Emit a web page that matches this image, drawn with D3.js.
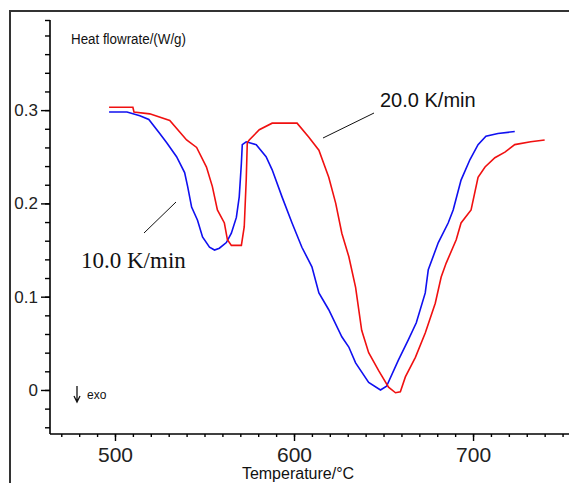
<!DOCTYPE html>
<html>
<head>
<meta charset="utf-8">
<script src="https://cdn.jsdelivr.net/npm/d3@7"></script>
<style>
  body { margin: 0; background: #fff; }
  svg { display: block; }
</style>
</head>
<body>
<div id="canvas"></div>
<script>
// 10.0 K/min run (blue)
const temp10 = [496.7, 506.7, 513.9, 518.9, 525.0, 528.9, 534.4, 538.9, 540.6, 542.8, 546.1, 548.9, 552.8, 555.6, 558.3, 562.2, 565.0, 567.8, 569.4, 570.6, 571.1, 573.3, 578.9, 584.4, 587.8, 593.3, 598.9, 604.4, 610.0, 613.9, 619.4, 626.7, 630.6, 634.4, 641.7, 648.3, 651.7, 658.3, 663.9, 668.3, 673.3, 675.0, 680.6, 686.1, 688.9, 693.3, 698.3, 702.8, 707.2, 713.9, 723.3];
const flow10 = [0.298, 0.298, 0.294, 0.290, 0.275, 0.265, 0.250, 0.233, 0.218, 0.196, 0.182, 0.164, 0.153, 0.150, 0.152, 0.158, 0.168, 0.185, 0.207, 0.243, 0.263, 0.266, 0.263, 0.250, 0.236, 0.207, 0.179, 0.153, 0.132, 0.104, 0.086, 0.057, 0.046, 0.029, 0.008, 0.000, 0.004, 0.032, 0.054, 0.072, 0.104, 0.129, 0.158, 0.179, 0.193, 0.225, 0.247, 0.263, 0.272, 0.275, 0.277];

// 20.0 K/min run (red)
const temp20 = [496.7, 510.0, 510.6, 519.4, 530.6, 540.0, 545.6, 551.1, 554.4, 557.2, 561.1, 562.8, 565.0, 570.6, 572.2, 573.3, 573.9, 575.0, 580.6, 587.8, 601.7, 608.3, 613.9, 619.4, 623.3, 626.7, 630.6, 634.4, 637.8, 641.7, 647.2, 652.8, 656.7, 659.4, 662.2, 667.8, 673.3, 678.9, 682.2, 685.0, 690.6, 693.3, 698.9, 702.8, 706.7, 712.2, 717.8, 723.3, 732.2, 740.0];
const flow20 = [0.303, 0.303, 0.298, 0.296, 0.289, 0.268, 0.260, 0.239, 0.218, 0.193, 0.179, 0.161, 0.155, 0.155, 0.175, 0.225, 0.265, 0.268, 0.279, 0.286, 0.286, 0.271, 0.257, 0.228, 0.200, 0.168, 0.143, 0.110, 0.064, 0.040, 0.021, 0.003, -0.003, -0.002, 0.014, 0.035, 0.061, 0.093, 0.121, 0.136, 0.161, 0.179, 0.193, 0.228, 0.239, 0.249, 0.255, 0.263, 0.266, 0.268];

const xMajor = [500, 600, 700];
const yMajor = [0, 0.1, 0.2, 0.3];
const yLabels = ["0", "0.1", "0.2", "0.3"];

const width = 569, height = 483;
const plotLeft = 50, plotRight = 569, plotTop = 20, plotBottom = 434;

const svg = d3.select("#canvas").append("svg")
  .attr("width", width).attr("height", height);

// outer frame (top + left edge only, rest is cropped)
svg.append("path")
  .attr("d", `M10,${height} L10,11 L${width},11`)
  .attr("fill", "none").attr("stroke", "#333").attr("stroke-width", 2);

const x = d3.scaleLinear().domain([463.7, 753.6]).range([plotLeft, plotRight]);
const y = d3.scaleLinear().domain([-0.0472, 0.3966]).range([plotBottom, plotTop]);

// y axis
const yMinor = d3.range(-0.04, 0.39, 0.02).concat([0.3966]);
svg.append("g")
  .attr("transform", `translate(${plotLeft},0)`)
  .call(d3.axisLeft(y).tickValues(yMinor).tickSize(5).tickFormat(""))
  .call(g => g.select(".domain").attr("d", `M0,${plotTop}V${plotBottom}`).attr("stroke-width", 1.6))
  .call(g => g.selectAll(".tick line").attr("stroke-width", 1.4));
svg.append("g")
  .attr("transform", `translate(${plotLeft},0)`)
  .call(d3.axisLeft(y).tickValues(yMajor).tickSize(9).tickPadding(3)
    .tickFormat((d, i) => yLabels[i]))
  .call(g => g.select(".domain").remove())
  .call(g => g.selectAll(".tick line").attr("stroke-width", 1.4))
  .call(g => g.selectAll("text").attr("font-family", "Arial, 'Liberation Sans', sans-serif")
    .attr("font-size", 17).attr("fill", "#222"));

// x axis
const xMinor = d3.range(470, 754, 10);
svg.append("g")
  .attr("transform", `translate(0,${plotBottom})`)
  .call(d3.axisBottom(x).tickValues(xMinor).tickSize(3).tickFormat(""))
  .call(g => g.select(".domain").attr("d", `M${plotLeft},0H${plotRight}`).attr("stroke-width", 1.6))
  .call(g => g.selectAll(".tick line").attr("stroke-width", 1.4));
svg.append("g")
  .attr("transform", `translate(0,${plotBottom})`)
  .call(d3.axisBottom(x).tickValues(xMajor).tickSize(7).tickPadding(6))
  .call(g => g.select(".domain").remove())
  .call(g => g.selectAll(".tick line").attr("stroke-width", 1.4))
  .call(g => g.selectAll("text").attr("font-family", "Arial, 'Liberation Sans', sans-serif")
    .attr("font-size", 21).attr("fill", "#222"));

// axis titles
svg.append("text")
  .attr("x", 71).attr("y", 44)
  .attr("font-family", "Arial, 'Liberation Sans', sans-serif")
  .attr("font-size", 14).attr("fill", "#111")
  .attr("textLength", 115).attr("lengthAdjust", "spacingAndGlyphs")
  .text("Heat flowrate/(W/g)");
svg.append("text")
  .attr("x", 298).attr("y", 479).attr("text-anchor", "middle")
  .attr("font-family", "Arial, 'Liberation Sans', sans-serif")
  .attr("font-size", 16).attr("fill", "#111")
  .text("Temperature/°C");

// exo marker
svg.append("path")
  .attr("d", "M77,386 V401 M74,396 L77,402 L80,396")
  .attr("fill", "none").attr("stroke", "#111").attr("stroke-width", 1.3);
svg.append("text")
  .attr("x", 87).attr("y", 399)
  .attr("font-family", "Arial, 'Liberation Sans', sans-serif")
  .attr("font-size", 12).attr("fill", "#111")
  .text("exo");

// curves
const line = d3.line().x(d => x(d[0])).y(d => y(d[1]));
const series = [
  { t: temp10, f: flow10, color: "#1010f0" },
  { t: temp20, f: flow20, color: "#f01010" }
];
svg.selectAll("path.curve").data(series).enter().append("path")
  .attr("class", "curve")
  .attr("fill", "none")
  .attr("stroke", d => d.color)
  .attr("stroke-width", 1.6)
  .attr("d", d => line(d.t.map((v, i) => [v, d.f[i]])));

// labels with leader lines
svg.append("line").attr("x1", 323).attr("y1", 138).attr("x2", 374).attr("y2", 113)
  .attr("stroke", "#111").attr("stroke-width", 1);
svg.append("text")
  .attr("x", 380).attr("y", 107)
  .attr("font-family", "Arial, 'Liberation Sans', sans-serif")
  .attr("font-size", 20).attr("fill", "#111")
  .text("20.0 K/min");

svg.append("line").attr("x1", 176).attr("y1", 202).attr("x2", 144).attr("y2", 233)
  .attr("stroke", "#111").attr("stroke-width", 1);
svg.append("text")
  .attr("x", 81).attr("y", 268)
  .attr("font-family", "'Times New Roman', 'Liberation Serif', serif")
  .attr("font-size", 23).attr("fill", "#111")
  .text("10.0 K/min");
</script>
</body>
</html>
